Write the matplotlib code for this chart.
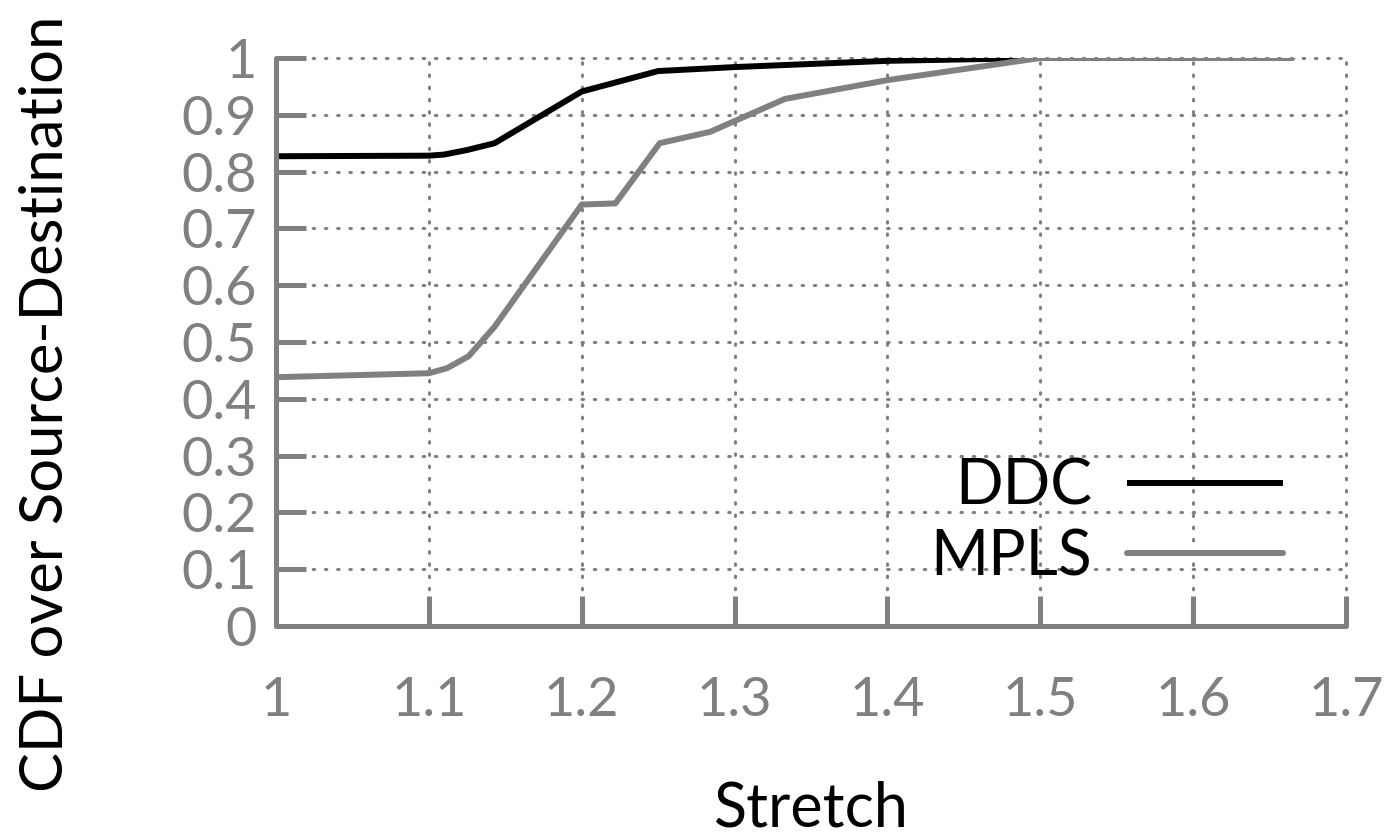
import matplotlib
matplotlib.use('Agg')
import matplotlib.pyplot as plt
import numpy as np

plt.rcParams['font.family'] = ['Lato', 'DejaVu Sans']

# stretch values and CDF
ddc_x = [1.0, 1.10, 1.11, 1.125, 1.143, 1.2, 1.25, 1.3, 1.4, 1.5, 1.6]
ddc_y = [0.827, 0.828, 0.830, 0.838, 0.850, 0.941, 0.977, 0.984, 0.995, 1.0, 1.0]
mpls_x = [1.0, 1.10, 1.112, 1.126, 1.143, 1.2, 1.222, 1.251, 1.284, 1.333, 1.4, 1.5, 1.665]
mpls_y = [0.438, 0.445, 0.454, 0.475, 0.527, 0.742, 0.744, 0.850, 0.870, 0.928, 0.961, 1.0, 1.0]

xticks = [1.0, 1.1, 1.2, 1.3, 1.4, 1.5, 1.6, 1.7]
xtick_labels = ['1', '1.1', '1.2', '1.3', '1.4', '1.5', '1.6', '1.7']
yticks = [0, 0.1, 0.2, 0.3, 0.4, 0.5, 0.6, 0.7, 0.8, 0.9, 1.0]
ytick_labels = ['0', '0.1', '0.2', '0.3', '0.4', '0.5', '0.6', '0.7', '0.8', '0.9', '1']

grey = '#808080'

fig = plt.figure(figsize=(13.97, 8.38), dpi=100)
ax = fig.add_axes([0.1976, 0.2530, 0.7659, 0.6778])

ax.plot(ddc_x, ddc_y, '-', color='black', lw=4.3, label='DDC', solid_capstyle='butt')
ax.plot(mpls_x, mpls_y, '-', color=grey, lw=4.3, label='MPLS', solid_capstyle='round')

ax.set_xlim(1.0, 1.7)
ax.set_ylim(0, 1.0)
ax.set_xticks(xticks)
ax.set_xticklabels(xtick_labels)
ax.set_yticks(yticks)
ax.set_yticklabels(ytick_labels)

for s in ['top', 'right']:
    ax.spines[s].set_visible(False)
for s in ['left', 'bottom']:
    ax.spines[s].set_color(grey)
    ax.spines[s].set_linewidth(3.6)
    ax.spines[s].set_capstyle('round')

ax.tick_params(axis='both', direction='in', length=21.5, width=3.6, color=grey,
               labelcolor=grey, labelsize=39)
ax.tick_params(axis='y', pad=14)
ax.tick_params(axis='x', pad=36)

ax.grid(True, color=grey, linestyle=(0, (0.5, 3.5)), linewidth=2.2, dash_capstyle='round')
for gl in ax.get_xgridlines() + ax.get_ygridlines():
    gl.set_clip_on(False)
ax.set_axisbelow(True)

ax.set_xlabel('Stretch', fontsize=44)
ax.xaxis.set_label_coords(0.5, -0.272)
ax.set_ylabel('CDF over Source-Destination', fontsize=43)
ax.yaxis.set_label_coords(-0.19, 0.392)

leg = ax.legend(loc='lower right', bbox_to_anchor=(0.941, 0.07), frameon=False,
                markerfirst=False, fontsize=45, handlelength=2.5, handletextpad=0.55,
                borderpad=0, borderaxespad=0, labelspacing=0.2)

plt.savefig('out.png', dpi=100)
